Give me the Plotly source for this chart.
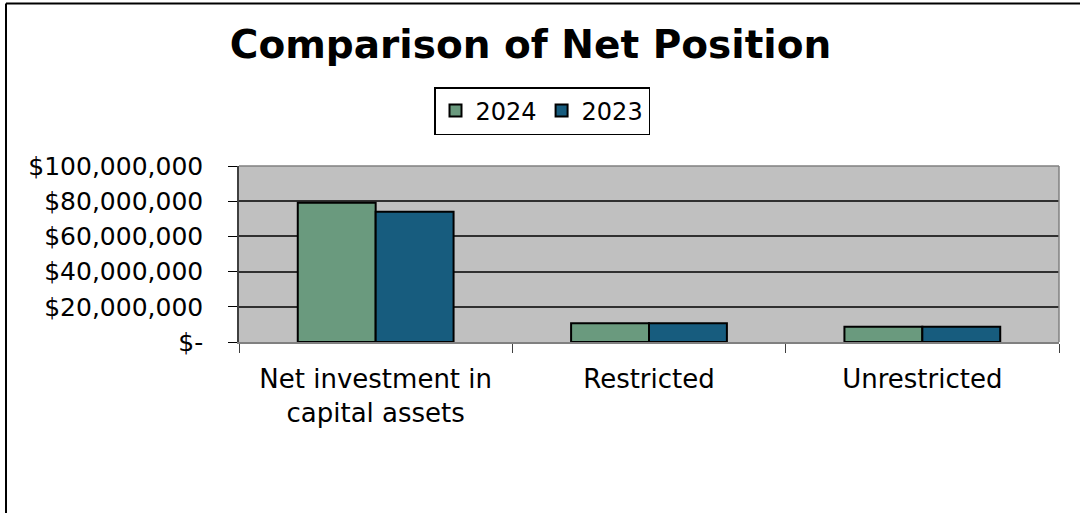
import plotly.graph_objects as go

categories = ["Net investment in<br>capital assets", "Restricted", "Unrestricted"]
series_names = ["2024", "2023"]
values_2024 = [79_100_000, 10_700_000, 8_700_000]
values_2023 = [74_000_000, 10_700_000, 8_700_000]
tick_vals = [0, 20_000_000, 40_000_000, 60_000_000, 80_000_000, 100_000_000]
tick_text = ["$-", "$20,000,000", "$40,000,000", "$60,000,000", "$80,000,000", "$100,000,000"]
colors = ["#6A9A7E", "#175C7E"]

FONT = "DejaVu Sans"

fig = go.Figure()
for name, vals, col in zip(series_names, [values_2024, values_2023], colors):
    fig.add_trace(go.Bar(
        x=categories, y=vals, name=name,
        marker=dict(color=col, line=dict(color="#000000", width=2)),
    ))

fig.update_layout(
    width=1080, height=513,
    margin=dict(l=239, r=21, t=166, b=171),
    paper_bgcolor="white",
    plot_bgcolor="#C0C0C0",
    barmode="group",
    bargap=0.43,
    bargroupgap=0,
    font=dict(family=FONT, color="#000000"),
    title=dict(
        text="<b>Comparison of Net Position</b>",
        x=530.5 / 1080, xanchor="center",
        y=1 - 44 / 513, yanchor="middle",
        font=dict(family=FONT, size=39, color="#000000"),
    ),
    legend=dict(
        orientation="h",
        x=(542 - 239) / 820, xanchor="center",
        y=(342 - 87) / 176, yanchor="top",
        bgcolor="white",
        bordercolor="#000000", borderwidth=1.5,
        font=dict(family=FONT, size=24, color="#000000"),
        itemwidth=30,
        tracegroupgap=0,
    ),
    showlegend=True,
)

fig.update_yaxes(
    range=[0, 100_000_000],
    tickvals=tick_vals, ticktext=tick_text,
    ticks="outside", ticklen=9, tickcolor="#000000", tickwidth=1,
    ticklabelstandoff=20,
    tickfont=dict(family=FONT, size=25, color="#000000"),
    showgrid=True, gridcolor="#303030", gridwidth=1.5,
    showline=True, linecolor="#404040", linewidth=1.5,
    mirror=False,
    zeroline=False,
)
fig.update_xaxes(
    tickson="boundaries",
    ticks="outside", ticklen=9, tickcolor="#404040", tickwidth=1,
    ticklabelstandoff=13,
    tickfont=dict(family=FONT, size=26, color="#000000"),
    showline=True, linecolor="#808080", linewidth=1.5,
    showgrid=False,
)

# plot-area frame on top and right (gray)
fig.add_shape(type="line", xref="paper", yref="paper", x0=0, x1=1, y0=1, y1=1,
              line=dict(color="#808080", width=1.5))
fig.add_shape(type="line", xref="paper", yref="paper", x0=1, x1=1, y0=0, y1=1,
              line=dict(color="#808080", width=1.5))

# outer chart frame (top and left edges visible)
fig.add_shape(type="line", xref="paper", yref="paper",
              x0=(6 - 239) / 820, x1=1.1, y0=(342 - 3.5) / 176, y1=(342 - 3.5) / 176,
              line=dict(color="#000000", width=2))
fig.add_shape(type="line", xref="paper", yref="paper",
              x0=(6 - 239) / 820, x1=(6 - 239) / 820, y0=-2, y1=(342 - 3.5) / 176,
              line=dict(color="#000000", width=2))

fig.write_html("out.html")
